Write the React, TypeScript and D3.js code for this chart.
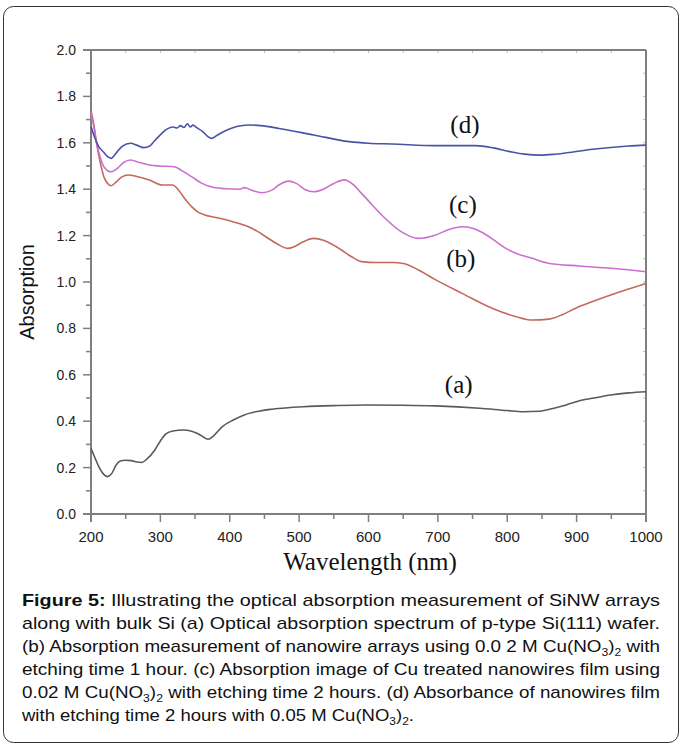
import React from "react";
import * as d3 from "d3";

// ---- data (wavelength nm, absorption) ----
const curveA: [number, number][] = [
  [200, 0.283], [206, 0.24], [212, 0.2], [218, 0.172], [224, 0.161], [230, 0.175], [236, 0.21],
  [242, 0.228], [250, 0.232], [258, 0.23], [266, 0.224], [273, 0.222], [280, 0.235], [292, 0.276],
  [300, 0.315], [308, 0.345], [318, 0.358], [333, 0.362], [345, 0.357], [355, 0.345], [363, 0.33],
  [369, 0.322], [376, 0.335], [389, 0.376], [405, 0.405], [421, 0.427], [440, 0.442], [458, 0.451],
  [480, 0.457], [506, 0.462], [550, 0.467], [597, 0.47], [650, 0.469], [697, 0.466], [760, 0.456],
  [800, 0.446], [823, 0.441], [847, 0.443], [866, 0.455], [885, 0.47], [904, 0.488], [925, 0.5],
  [949, 0.513], [975, 0.522], [1000, 0.527],
];

const curveB: [number, number][] = [
  [200, 1.74], [204, 1.68], [208, 1.6], [213, 1.52], [219, 1.45], [224, 1.425], [229, 1.415],
  [236, 1.43], [244, 1.452], [254, 1.461], [266, 1.455], [284, 1.44], [303, 1.418], [318, 1.418],
  [324, 1.404], [335, 1.36], [345, 1.325], [355, 1.3], [364, 1.289], [380, 1.278], [396, 1.267],
  [412, 1.253], [427, 1.238], [440, 1.218], [452, 1.195], [468, 1.165], [484, 1.145], [495, 1.155],
  [505, 1.172], [521, 1.188], [535, 1.18], [546, 1.165], [560, 1.14], [575, 1.11], [590, 1.088],
  [612, 1.084], [635, 1.084], [650, 1.08], [672, 1.052], [697, 1.009], [735, 0.951], [779, 0.886],
  [812, 0.851], [836, 0.836], [860, 0.84], [880, 0.86], [898, 0.886], [925, 0.918], [949, 0.944],
  [975, 0.97], [1000, 0.994],
];

const curveC: [number, number][] = [
  [200, 1.73], [204, 1.67], [208, 1.6], [213, 1.54], [219, 1.495], [229, 1.475], [238, 1.49],
  [247, 1.515], [257, 1.526], [270, 1.515], [284, 1.504], [300, 1.5], [320, 1.497], [332, 1.478],
  [345, 1.454], [360, 1.425], [377, 1.407], [395, 1.402], [414, 1.4], [421, 1.407], [432, 1.395],
  [446, 1.385], [460, 1.395], [472, 1.42], [484, 1.435], [496, 1.425], [509, 1.398], [521, 1.389],
  [535, 1.4], [550, 1.425], [565, 1.44], [578, 1.42], [590, 1.382], [606, 1.33], [622, 1.28],
  [647, 1.217], [672, 1.188], [697, 1.203], [715, 1.225], [735, 1.238], [750, 1.232], [766, 1.21],
  [782, 1.178], [798, 1.145], [816, 1.12], [836, 1.102], [861, 1.08], [904, 1.069], [949, 1.059],
  [1000, 1.044],
];

const curveD: [number, number][] = [
  [200, 1.67], [205, 1.625], [211, 1.585], [218, 1.56], [224, 1.54], [229, 1.533], [236, 1.555],
  [245, 1.585], [257, 1.598], [266, 1.59], [276, 1.579], [284, 1.585], [292, 1.61], [302, 1.641],
  [310, 1.66], [318, 1.668], [324, 1.664], [329, 1.674], [334, 1.666], [339, 1.682], [343, 1.668],
  [347, 1.676], [353, 1.664], [361, 1.648], [368, 1.628],
  [374, 1.619], [383, 1.635], [396, 1.655], [410, 1.67], [427, 1.677], [445, 1.674], [471, 1.662],
  [521, 1.634], [572, 1.605], [600, 1.598], [634, 1.595], [697, 1.588], [754, 1.588], [780, 1.578],
  [804, 1.562], [825, 1.551], [848, 1.547], [866, 1.55], [886, 1.557], [920, 1.571], [949, 1.58],
  [975, 1.586], [1000, 1.59],
];

const seriesNames = ["(a)", "(b)", "(c)", "(d)"];
const seriesColors = ["#5a5a5a", "#c4695c", "#cc6fd0", "#4a52a6"];
const seriesData = [curveA, curveB, curveC, curveD];
const seriesLabelPos: [number, number][] = [[730, 0.52], [733, 1.065], [736, 1.297], [739, 1.644]];

const xTicks = [200, 300, 400, 500, 600, 700, 800, 900, 1000];
const yTicks = [0, 0.2, 0.4, 0.6, 0.8, 1.0, 1.2, 1.4, 1.6, 1.8, 2.0];

const captionLines = [
  [{ t: "Figure 5:", b: true }, { t: " Illustrating the optical absorption measurement of SiNW arrays" }],
  [{ t: "along with bulk Si (a) Optical absorption spectrum of p-type Si(111) wafer." }],
  [{ t: "(b) Absorption measurement of nanowire arrays using 0.0 2 M Cu(NO" }, { t: "3", s: true }, { t: ")" }, { t: "2", s: true }, { t: " with" }],
  [{ t: "etching time 1 hour. (c) Absorption image of Cu treated nanowires film using" }],
  [{ t: "0.02 M Cu(NO" }, { t: "3", s: true }, { t: ")" }, { t: "2", s: true }, { t: " with etching time 2 hours. (d) Absorbance of nanowires film" }],
  [{ t: "with etching time 2 hours with 0.05 M Cu(NO" }, { t: "3", s: true }, { t: ")" }, { t: "2", s: true }, { t: "." }],
];
const captionWidths = [638, 638, 638, 638, 638, 392];

export default function App() {
  const W = 682, H = 749;
  const left = 91, right = 646, top = 50, bottom = 514;
  const x = d3.scaleLinear().domain([200, 1000]).range([left, right]);
  const y = d3.scaleLinear().domain([0, 2]).range([bottom, top]);
  const line = d3.line<[number, number]>().x(d => x(d[0])).y(d => y(d[1])).curve(d3.curveMonotoneX);

  const xMinor = d3.range(200, 1001, 50);
  const yMinor = d3.range(0, 2.001, 0.1);
  const axisColor = "#7f7f7f";
  const sans = "'Liberation Sans', Arial, sans-serif";
  const serif = "'Liberation Serif', 'Times New Roman', serif";

  const capTop = 606, capStep = 23;

  return (
    <svg width={W} height={H} style={{ position: "absolute", left: 0, top: 0, background: "#fff" }}>
      <rect x={3.5} y={6.5} width={675} height={736} rx={10} ry={10} fill="#fff" stroke="#333" strokeWidth={1} />

      {/* faint ticks top & right */}
      {xMinor.map(v => (
        <line key={"tt" + v} x1={x(v)} x2={x(v)} y1={top} y2={top + 3} stroke="#bbb" strokeWidth={1} />
      ))}
      {yMinor.map(v => (
        <line key={"rt" + v} x1={right - 3} x2={right} y1={y(v)} y2={y(v)} stroke="#bbb" strokeWidth={1} />
      ))}

      {/* frame */}
      <line x1={left - 8} x2={right} y1={top} y2={top} stroke={axisColor} strokeWidth={2} />
      <line x1={right} x2={right} y1={top} y2={bottom + 8} stroke={axisColor} strokeWidth={2} />
      <line x1={left - 8} x2={right} y1={bottom} y2={bottom} stroke={axisColor} strokeWidth={2} />
      <line x1={left} x2={left} y1={top} y2={bottom + 8} stroke={axisColor} strokeWidth={2} />

      {/* y ticks */}
      {yMinor.map((v, i) => (
        <line key={"yt" + i} x1={left - (i % 2 === 0 ? 8 : 5)} x2={left} y1={y(v)} y2={y(v)} stroke={axisColor} strokeWidth={1.5} />
      ))}
      {yTicks.map(v => (
        <text key={"yl" + v} x={76} y={y(v) + 5} textAnchor="end" fontFamily={sans} fontSize={14} fill="#222">
          {v.toFixed(1)}
        </text>
      ))}
      {/* x ticks */}
      {xMinor.map((v, i) => (
        <line key={"xt" + v} x1={x(v)} x2={x(v)} y1={bottom} y2={bottom + (i % 2 === 0 ? 8 : 5)} stroke={axisColor} strokeWidth={1.5} />
      ))}
      {xTicks.map(v => (
        <text key={"xl" + v} x={x(v)} y={542} textAnchor="middle" fontFamily={sans} fontSize={15} fill="#222">
          {v}
        </text>
      ))}

      {/* axis titles */}
      <text x={370} y={570} textAnchor="middle" fontFamily={serif} fontSize={25} fill="#111">Wavelength (nm)</text>
      <text transform={`translate(34,${292}) rotate(-90)`} textAnchor="middle" fontFamily={sans} fontSize={20} fill="#111">Absorption</text>

      {/* curves */}
      {seriesData.map((d, i) => (
        <path key={"c" + i} d={line(d) || ""} fill="none" stroke={seriesColors[i]} strokeWidth={1.6} strokeLinejoin="round" />
      ))}

      {/* series labels */}
      {seriesNames.map((n, i) => (
        <text key={"sl" + i} x={x(seriesLabelPos[i][0])} y={y(seriesLabelPos[i][1])} textAnchor="middle" fontFamily={serif} fontSize={25} fill="#111">
          {n}
        </text>
      ))}

      {/* caption */}
      {captionLines.map((ln, li) => (
        <text key={"cap" + li} x={22} y={capTop + li * capStep} fontFamily={sans} fontSize={17} fill="#111"
          textLength={captionWidths[li]} lengthAdjust="spacingAndGlyphs">
          {ln.map((seg: any, si) => seg.s ? (
            <tspan key={si} fontSize={11} dy={4}>{seg.t}</tspan>
          ) : (
            <tspan key={si} fontWeight={seg.b ? "bold" : "normal"} dy={si > 0 && ln[si - 1] && (ln[si - 1] as any).s ? -4 : 0}>{seg.t}</tspan>
          ))}
        </text>
      ))}
    </svg>
  );
}
